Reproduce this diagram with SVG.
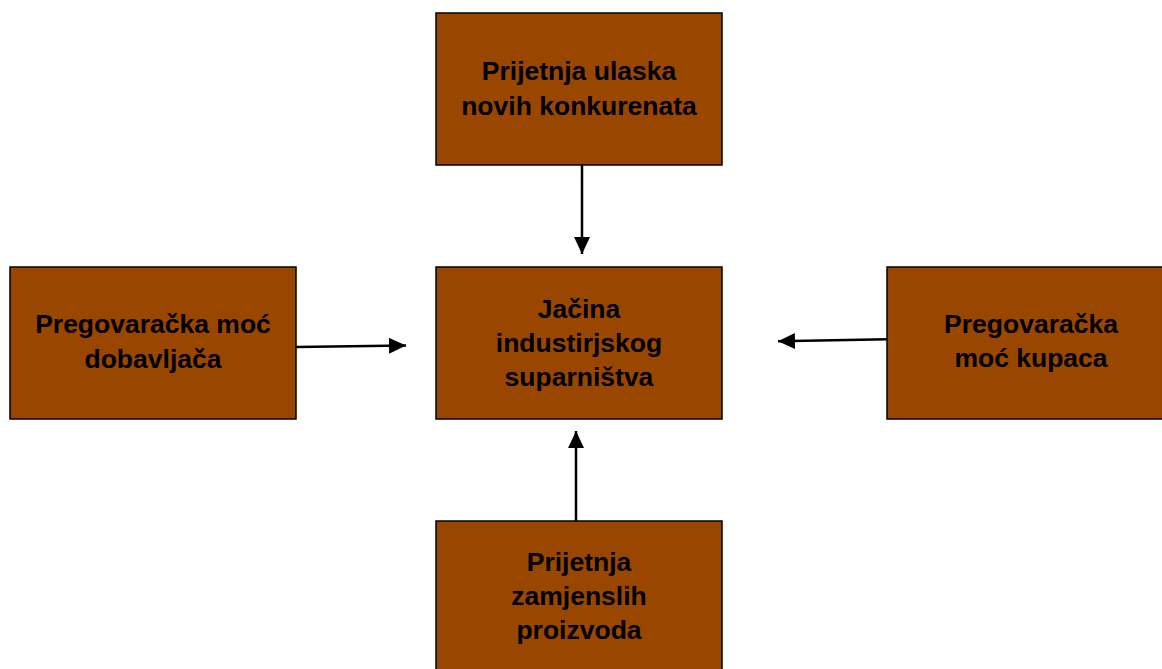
<svg xmlns="http://www.w3.org/2000/svg" width="1162" height="669" viewBox="0 0 1162 669">
<style>
.box{fill:#994700;stroke:#000;stroke-width:1.5}
.lbl{font-family:"Liberation Sans",Arial,sans-serif;font-weight:bold;font-size:26.5px;fill:#000;text-anchor:middle}
.conn{stroke:#000;stroke-width:2.5;fill:none;marker-end:url(#ah)}
</style>
<defs>
<marker id="ah" markerUnits="userSpaceOnUse" markerWidth="17" markerHeight="16" refX="16" refY="7.5" orient="auto" viewBox="0 0 16 15">
<path d="M0,0 L16,7.5 L0,15 z" fill="#000"/>
</marker>
</defs>
<rect width="1162" height="669" fill="#fff"/>
<g id="connectors">
<line class="conn" x1="582" y1="165" x2="582" y2="254"/>
<line class="conn" x1="296" y1="347" x2="406" y2="345.5"/>
<line class="conn" x1="888" y1="339.3" x2="778" y2="341.3"/>
<line class="conn" x1="576" y1="521" x2="576" y2="431"/>
</g>
<g id="node-top">
<rect class="box" x="436" y="13" width="286" height="152"/>
<text class="lbl" x="579" y="80">Prijetnja ulaska</text>
<text class="lbl" x="579" y="115">novih konkurenata</text>
</g>
<g id="node-center">
<rect class="box" x="436" y="267" width="286" height="152"/>
<text class="lbl" x="579" y="318">Jačina</text>
<text class="lbl" x="579" y="352">industirjskog</text>
<text class="lbl" x="579" y="386">suparništva</text>
</g>
<g id="node-left">
<rect class="box" x="10" y="267" width="286" height="152"/>
<text class="lbl" x="153" y="333">Pregovaračka moć</text>
<text class="lbl" x="153" y="368">dobavljača</text>
</g>
<g id="node-right">
<rect class="box" x="887" y="267" width="286" height="152"/>
<text class="lbl" x="1031" y="333">Pregovaračka</text>
<text class="lbl" x="1031" y="367">moć kupaca</text>
</g>
<g id="node-bottom">
<rect class="box" x="436" y="521" width="286" height="160"/>
<text class="lbl" x="579" y="571">Prijetnja</text>
<text class="lbl" x="579" y="605">zamjenslih</text>
<text class="lbl" x="579" y="639">proizvoda</text>
</g>
</svg>
